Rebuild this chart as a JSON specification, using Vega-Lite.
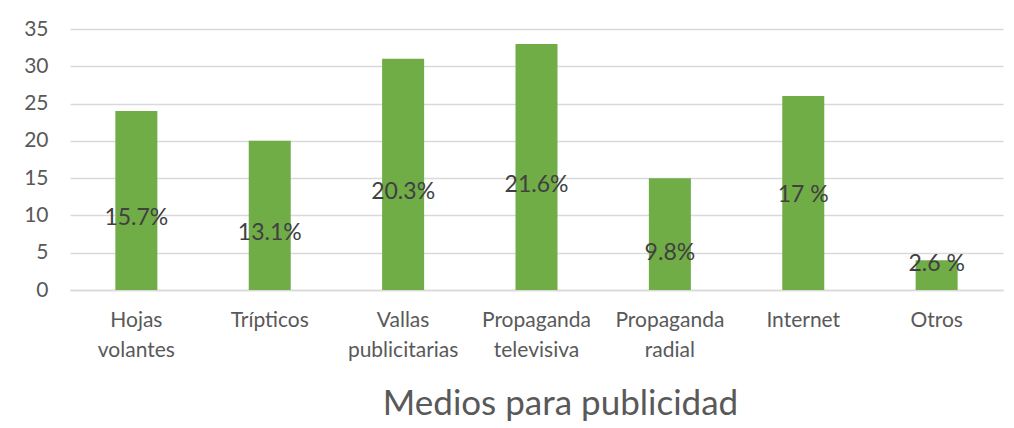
{
  "$schema": "https://vega.github.io/schema/vega-lite/v6.json",
  "autosize": "none",
  "width": 933,
  "height": 261,
  "padding": {"left": 70, "top": 29, "right": 11, "bottom": 138},
  "background": "white",
  "config": {
    "view": {"stroke": null}, "font": "Lato",
    "axisY": {"labelOverlap": false, "labelFontSize": 21, "labelColor": "#595959", "labelPadding": 22, "ticks": false, "domain": false, "grid": true, "gridColor": "#d9d9d9", "gridWidth": 1.5, "title": null}
  },
  "data": {"values": [
    {"medio": "Hojas volantes", "valor": 24, "etiqueta": "15.7%", "etiquetaEn": 9.7},
    {"medio": "Trípticos", "valor": 20, "etiqueta": "13.1%", "etiquetaEn": 7.6},
    {"medio": "Vallas publicitarias", "valor": 31, "etiqueta": "20.3%", "etiquetaEn": 13.1},
    {"medio": "Propaganda televisiva", "valor": 33, "etiqueta": "21.6%", "etiquetaEn": 14.1},
    {"medio": "Propaganda radial", "valor": 15, "etiqueta": "9.8%", "etiquetaEn": 5.0},
    {"medio": "Internet", "valor": 26, "etiqueta": "17 %", "etiquetaEn": 12.7},
    {"medio": "Otros", "valor": 4, "etiqueta": "2.6 %", "etiquetaEn": 3.5}
  ]},
  "encoding": {
    "x": {
      "field": "medio", "type": "nominal", "sort": null,
      "scale": {"paddingInner": 0.685, "paddingOuter": 0.34},
      "axis": {
        "title": "Medios para publicidad",
        "titleFontSize": 35, "titleFontWeight": "normal", "titleColor": "#595959",
        "titlePadding": 26, "titleFont": "Lato", "titleX": 490, "titleAnchor": "middle", "titleAlign": "center",
        "labelAngle": 0, "labelFontSize": 21, "labelColor": "#595959",
        "labelPadding": 19, "labelLineHeight": 30, "labelOverlap": false,
        "labelExpr": "datum.value == 'Hojas volantes' ? ['Hojas','volantes'] : datum.value == 'Vallas publicitarias' ? ['Vallas','publicitarias'] : datum.value == 'Propaganda televisiva' ? ['Propaganda','televisiva'] : datum.value == 'Propaganda radial' ? ['Propaganda','radial'] : datum.value",
        "labelBaseline": "top",
        "ticks": false, "domain": true, "domainColor": "#d9d9d9", "domainWidth": 1.5,
        "grid": false
      }
    }
  },
  "layer": [
    {
      "mark": {"type": "bar", "color": "#70ad47"},
      "encoding": {
        "y": {
          "field": "valor", "type": "quantitative",
          "scale": {"domain": [0, 35]},
          "axis": {"values": [0, 5, 10, 15, 20, 25, 30, 35]}
        }
      }
    },
    {
      "mark": {"type": "text", "fontSize": 23, "color": "#404040", "baseline": "middle", "font": "Lato"},
      "encoding": {
        "y": {"field": "etiquetaEn", "type": "quantitative", "axis": {"values": [0, 5, 10, 15, 20, 25, 30, 35]}},
        "text": {"field": "etiqueta"}
      }
    }
  ]
}
